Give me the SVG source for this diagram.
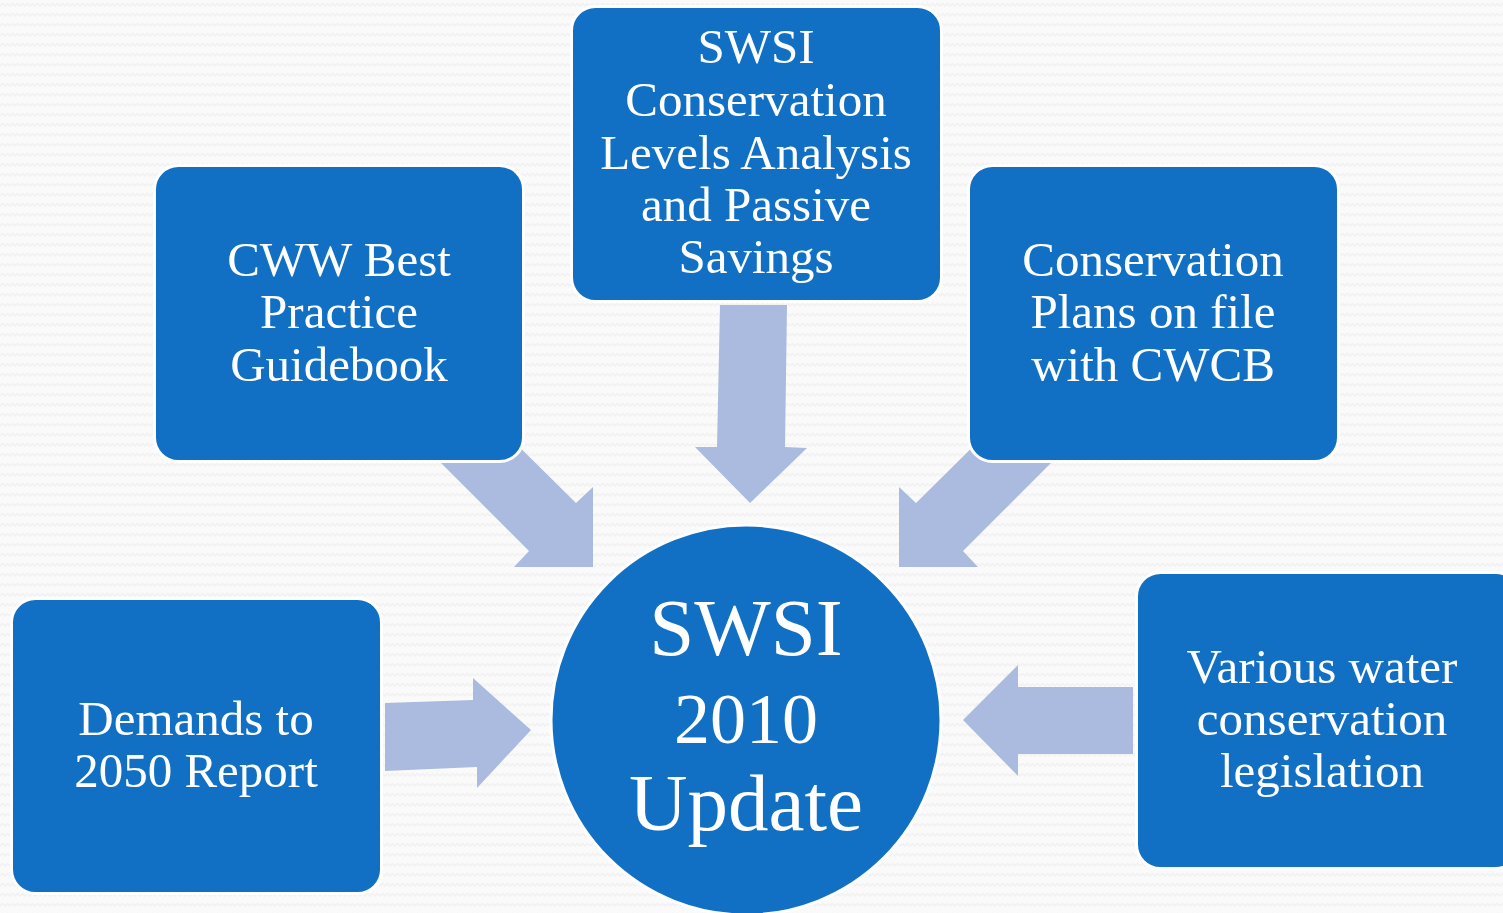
<svg xmlns="http://www.w3.org/2000/svg" width="1503" height="913" viewBox="0 0 1503 913">
  <style>
    .box { fill: #1270C4; stroke: #FFFFFF; stroke-width: 3; }
    .arrow { fill: #AABBDF; stroke: none; }
    .lbl { font-family: "Liberation Serif", "DejaVu Serif", serif; font-size: 49px; fill: #FFFFFF; text-anchor: middle; }
    .big { font-family: "Liberation Serif", "DejaVu Serif", serif; font-size: 81px; fill: #FFFFFF; text-anchor: middle; }
    .num { font-size: 72px; }
  </style>
  <defs>
    <pattern id="bg" width="10" height="10" patternUnits="userSpaceOnUse">
      <rect width="10" height="10" fill="#FAFAFA"/>
      <path d="M0,6 L2.5,3.5 L5,6 L7.5,3.5 L10,6" fill="none" stroke="#F1F1F1" stroke-width="1.3"/>
    </pattern>
  </defs>
  <rect x="0" y="0" width="1503" height="913" fill="url(#bg)"/>

  <g id="connectors">
    <polygon class="arrow" points="434,456 481,409 576,503 593,487 593,567 514,567 529,551"/>
    <polygon class="arrow" points="1058,456 1011,409 916,503 899,487 899,567 978,567 963,551"/>
    <polygon class="arrow" points="720,305 787,305 785,447 807,448 750,503 695,447 717,447"/>
    <polygon class="arrow" points="385,703 473,700 473,678 531,730 477,788 477,767 385,771"/>
    <polygon class="arrow" points="1133,687 1018,687 1018,665 963,720 1018,776 1018,754 1133,754"/>
  </g>

  <g id="node-cww">
    <rect class="box" x="154.5" y="165.5" width="369" height="296" rx="24" ry="24"/>
    <text class="lbl" x="339" y="276">CWW Best</text>
    <text class="lbl" x="339" y="328">Practice</text>
    <text class="lbl" x="339" y="381">Guidebook</text>
  </g>

  <g id="node-levels">
    <rect class="box" x="571.5" y="6.5" width="370" height="295" rx="24" ry="24"/>
    <text class="lbl" x="756" y="63">SWSI</text>
    <text class="lbl" x="756" y="116">Conservation</text>
    <text class="lbl" x="756" y="169">Levels Analysis</text>
    <text class="lbl" x="756" y="221">and Passive</text>
    <text class="lbl" x="756" y="273">Savings</text>
  </g>

  <g id="node-plans">
    <rect class="box" x="968.5" y="165.5" width="370" height="296" rx="24" ry="24"/>
    <text class="lbl" x="1153" y="276">Conservation</text>
    <text class="lbl" x="1153" y="328">Plans on file</text>
    <text class="lbl" x="1153" y="381">with CWCB</text>
  </g>

  <g id="node-demands">
    <rect class="box" x="11.5" y="598.5" width="370" height="295" rx="24" ry="24"/>
    <text class="lbl" x="196" y="735">Demands to</text>
    <text class="lbl" x="196" y="787">2050 Report</text>
  </g>

  <g id="node-legislation">
    <rect class="box" x="1136.5" y="572.5" width="383" height="296" rx="24" ry="24"/>
    <text class="lbl" x="1322" y="683">Various water</text>
    <text class="lbl" x="1322" y="735">conservation</text>
    <text class="lbl" x="1322" y="787">legislation</text>
  </g>

  <g id="node-update">
    <circle class="box" cx="746" cy="720" r="195"/>
    <text class="big" x="746" y="655">SWSI</text>
    <text class="big num" x="746" y="743">2010</text>
    <text class="big" x="746" y="830">Update</text>
  </g>
</svg>
